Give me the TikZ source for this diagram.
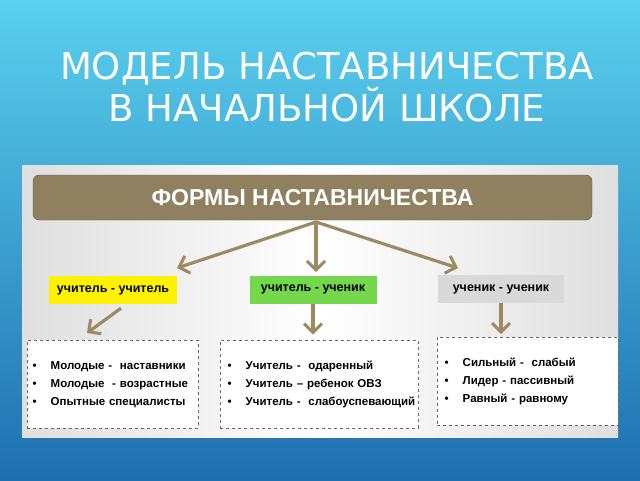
\documentclass[tikz,border=0pt]{standalone}
\usepackage{fontspec}
\setmainfont{Liberation Sans}
\newfontfamily\titlefont{DejaVu Sans}
\usetikzlibrary{arrows.meta,shadows}
\definecolor{olivebar}{HTML}{8F8160}
\definecolor{arrowcol}{HTML}{9C8B62}
\definecolor{skytop}{HTML}{5AD0EE}
\definecolor{skybot}{HTML}{1F6FB0}
\tikzset{
  form/.style={minimum height=28pt,font=\bfseries\fontsize{12.5}{14}\selectfont,inner sep=2pt},
  list/.style={draw=gray!80!black,dashed,fill=white,anchor=north west,align=left,
    font=\bfseries\fontsize{11.5}{18}\selectfont,inner sep=0pt},
  link/.style={-{Straight Barb[length=9pt,width=18pt,line width=3pt]},line width=3.2pt,draw=arrowcol}
}
\begin{document}
\begin{tikzpicture}[x=1pt,y=-1pt]
\shade[top color=skytop,bottom color=skybot] (0,0) rectangle (640,480);
\useasboundingbox (0,0) rectangle (640,480);
% title
\node[text=white,font=\titlefont\fontsize{37}{37}\selectfont,align=center] (title) at (327,87)
  {МОДЕЛЬ НАСТАВНИЧЕСТВА\\В НАЧАЛЬНОЙ ШКОЛЕ};
% panel
\shade[left color=gray!25!white,right color=gray!25!white,middle color=white] (22,165) rectangle (618,437);
\node[fill=olivebar,draw=olivebar!70!black,rounded corners=6pt,minimum width=559pt,minimum height=45pt,
  text=white,font=\bfseries\fontsize{23}{26}\selectfont] (forms) at (312.5,197.5) {ФОРМЫ НАСТАВНИЧЕСТВА};
\coordinate (hub) at (316,222);
\node[form,fill=yellow,minimum width=128pt] (tt) at (113,290) {учитель - учитель};
\node[form,fill=green!55!olive!70!white,minimum width=127pt] (ts) at (313,289.5) {учитель - ученик};
\node[form,fill=gray!30,minimum width=126pt] (ss) at (501,289) {ученик - ученик};
\coordinate (tip1) at (177,268);
\coordinate (tip2) at (316,272);
\coordinate (tip3) at (458,268);
\draw[link] (hub) -- (tip1);
\draw[link] (hub) -- (tip2);
\draw[link] (hub) -- (tip3);
% lists
\node[list,minimum width=171pt,minimum height=88pt,text width=168pt] (l1) at (27,340)
  {\hspace*{4pt}\textbullet\hspace{14pt}Молодые -\ \ наставники\\
   \hspace*{4pt}\textbullet\hspace{14pt}Молодые\ \ - возрастные\\
   \hspace*{4pt}\textbullet\hspace{14pt}Опытные специалисты};
\node[list,minimum width=198pt,minimum height=88pt,text width=195pt] (l2) at (220,340)
  {\hspace*{6pt}\textbullet\hspace{14pt}Учитель -\ \ одаренный\\
   \hspace*{6pt}\textbullet\hspace{14pt}Учитель -- ребенок ОВЗ\\
   \hspace*{6pt}\textbullet\hspace{14pt}Учитель -\ \ слабоуспевающий};
\node[list,minimum width=181pt,minimum height=88pt,text width=178pt] (l3) at (437,337)
  {\hspace*{6pt}\textbullet\hspace{14pt}Сильный -\ \ слабый\\
   \hspace*{6pt}\textbullet\hspace{14pt}Лидер - пассивный\\
   \hspace*{6pt}\textbullet\hspace{14pt}Равный - равному};
\coordinate (tip4) at (87,333);
\draw[link] (tt.south) ++(8,4) coordinate (from1) (from1) -- (tip4);
\draw[link] (ts.south) -- ++(0,31);
\draw[link] (ss.south) -- ++(0,31);
\end{tikzpicture}
\end{document}
